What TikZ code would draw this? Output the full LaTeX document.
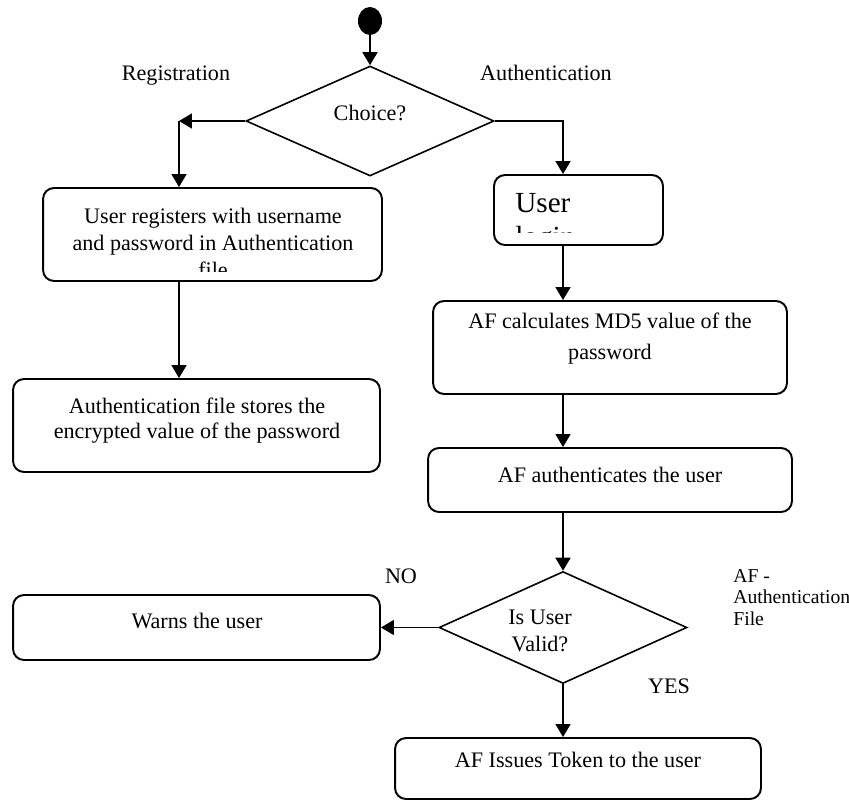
\documentclass[tikz,border=0pt]{standalone}
\usepackage{fontspec}
\setmainfont{Liberation Serif}
\usetikzlibrary{shapes.geometric,arrows.meta}

\begin{document}
\begin{tikzpicture}[x=0.02cm, y=-0.02cm,
    box/.style={draw, line width=1.1pt, rounded corners=0.22cm, inner sep=0},
    decision/.style={draw, diamond, line width=0.9pt, inner sep=0},
    txt/.style={inner sep=0, anchor=north, align=center, font=\fontsize{12.6}{15.4}\selectfont},
    flow/.style={line width=0.9pt, -{Triangle[length=0.26cm, width=0.3cm]}}]
    \useasboundingbox (0,0) rectangle (849,801);

    % start and first choice
    \node[ellipse, fill, inner sep=0, minimum width=0.48cm, minimum height=0.56cm] (start) at (370,21) {};
    \node[decision, minimum width=4.96cm, minimum height=2.2cm] (choice) at (370,121) {};
    \node[txt] (choicetext) at (370,105) {Choice?};
    \node[txt] (reglabel) at (176,65) {Registration};
    \node[txt] (authlabel) at (546,65) {Authentication};
    \coordinate (regturn) at (179,121);
    \coordinate (authturn) at (563,121);

    % registration branch
    \node[box, minimum width=6.78cm, minimum height=1.86cm] (reg) at (212.5,234.5) {};
    \node[box, minimum width=7.34cm, minimum height=1.86cm] (store) at (196.5,425.5) {};
    \begin{scope}
        \clip ([yshift=0.2cm]reg.south west) rectangle (reg.north east);
        \node[txt] (regtext) at (213,208) {User registers with username\\and password in Authentication\\file};
    \end{scope}
    \node[txt, font=\fontsize{12.6}{13.7}\selectfont] (storetext) at (197,398) {Authentication file stores the\\encrypted value of the password};

    % authentication branch
    \node[box, minimum width=3.38cm, minimum height=1.4cm] (login) at (578.5,210) {};
    \begin{scope}
        \clip ([yshift=0.27cm]login.south west) rectangle (login.north east);
        \node[txt, anchor=north west, align=left, font=\fontsize{16.6}{19.3}\selectfont] (logintext) at (515,193) {User\\login};
    \end{scope}
    \node[box, minimum width=7.08cm, minimum height=1.86cm] (md5) at (610,347.5) {};
    \node[txt] (md5text) at (610,313) {AF calculates MD5 value of the\\[1.8pt]password};
    \node[box, minimum width=7.28cm, minimum height=1.28cm] (auth) at (610,480) {};
    \node[txt] (authtext) at (610,467) {AF authenticates the user};

    % validity check
    \node[decision, minimum width=4.96cm, minimum height=2.24cm] (valid) at (563,627.5) {};
    \node[txt] (validtext) at (540,610) {Is User\\Valid?};
    \node[box, minimum width=7.34cm, minimum height=1.3cm] (warn) at (196.5,627.5) {};
    \node[txt] (warntext) at (197,613) {Warns the user};
    \node[box, minimum width=7.32cm, minimum height=1.22cm] (token) at (578,768.5) {};
    \node[txt] (tokentext) at (578,752) {AF Issues Token to the user};
    \node[txt] (nolabel) at (401,568.6) {NO};
    \node[txt] (yeslabel) at (669,678.6) {YES};
    \node[txt, anchor=north west, align=left, font=\fontsize{11.2}{12}\selectfont] (afnote) at (733,569.5) {AF -\\Authentication\\File};

    % connectors
    \draw[flow] (start) -- (choice.north);
    \draw[flow] (choice.west) -- (regturn);
    \draw[flow] (regturn) -- (regturn |- reg.north);
    \draw[flow] (choice.east) -- (authturn) -- (authturn |- login.north);
    \draw[flow] (regturn |- reg.south) -- (regturn |- store.north);
    \draw[flow] (authturn |- login.south) -- (authturn |- md5.north);
    \draw[flow] (authturn |- md5.south) -- (authturn |- auth.north);
    \draw[flow] (authturn |- auth.south) -- (valid.north);
    \draw[flow] (valid.west) -- (valid.west -| warn.east);
    \draw[flow] (valid.south) -- (valid.south |- token.north);
\end{tikzpicture}
\end{document}
